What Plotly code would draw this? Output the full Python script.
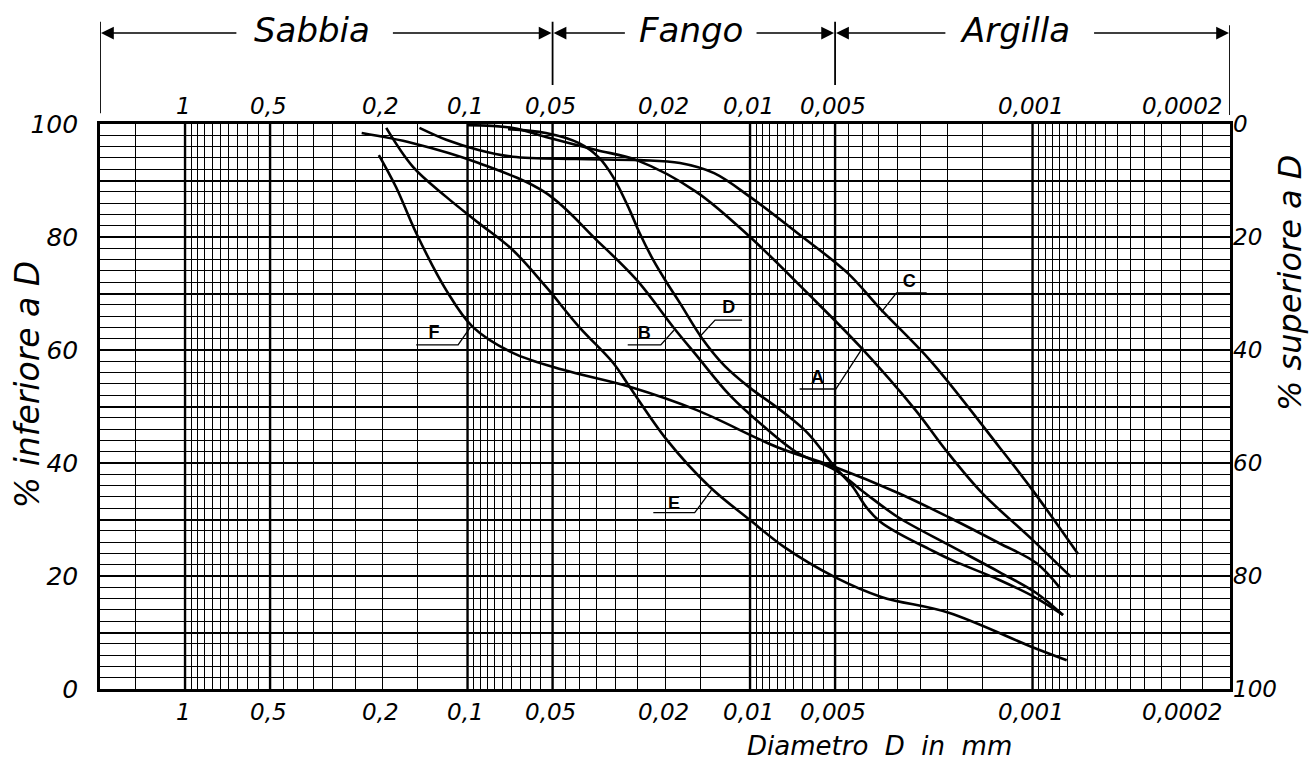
import math
import plotly.graph_objects as go

# ---------------- data ----------------
SIZE_VALUES = [1, 0.5, 0.2, 0.1, 0.05, 0.02, 0.01, 0.005, 0.001, 0.0002]
SIZE_LABELS = ["1", "0,5", "0,2", "0,1", "0,05", "0,02", "0,01", "0,005", "0,001", "0,0002"]

PCT_TICKS = [0, 10, 20, 30, 40, 50, 60, 70, 80, 90, 100]
PCT_TEXT = ["0", "", "20", "", "40", "", "60", "", "80", "", "100"]
PCT2_TICKS = [0, 20, 40, 60, 80, 100]

# log-paper grid
GRID_EXTRA = [2, 1.5]
GRID_DECADES = [1, 0.1, 0.01, 0.001]
GRID_MANTISSA = [1.0, 0.95, 0.9, 0.85, 0.8, 0.75, 0.7, 0.65, 0.6, 0.55, 0.5,
                 0.45, 0.4, 0.35, 0.3, 0.25, 0.2, 0.15]
GRID_BOLD = [1, 0.5, 0.1, 0.05, 0.01, 0.005, 0.001]

# grain size fractions (top classification)
CLASS_NAMES = ["Sabbia", "Fango", "Argilla"]
CLASS_BOUNDS = [2, 0.05, 0.005, 0.0002]
CLASS_TEXT_D = [0.356, 0.0162, 0.00115]
CLASS_GAP_LEFT = [0.65, 0.0274, 0.00201]     # arrow tails (left arrows)
CLASS_GAP_RIGHT = [0.186, 0.0096, 0.000613]  # arrow tails (right arrows)

# curves: diameter (mm) and % passing
A_D = [0.1, 0.069, 0.0528, 0.035, 0.0252, 0.0155, 0.01, 0.00627, 0.00406,
       0.0026, 0.00203, 0.00151, 0.001, 0.00073]
A_P = [99.8, 99.3, 97.7, 95.4, 93.6, 88.0, 80.0, 70.1, 60.5,
       49.4, 42.3, 34.7, 26.4, 19.8]

B_D = [0.237, 0.156, 0.0914, 0.0528, 0.035, 0.0252, 0.0186, 0.0155, 0.0118, 0.00891,
       0.0068, 0.00501, 0.00392, 0.00299, 0.00198, 0.00131, 0.00097, 0.00078]
B_P = [98.4, 96.6, 93.1, 87.8, 79.5, 72.4, 63.9, 59.1, 52.0, 46.4,
       41.8, 38.8, 34.7, 30.4, 25.5, 20.7, 17.0, 13.1]

C_D = [0.148, 0.119, 0.0914, 0.0692, 0.0413, 0.0246, 0.0177, 0.0134, 0.01, 0.0068,
       0.00451, 0.00343, 0.00228, 0.00131, 0.001, 0.00069]
C_P = [99.3, 97.2, 95.4, 94.2, 93.8, 93.6, 93.1, 91.3, 87.1, 80.7,
       73.6, 67.1, 57.9, 42.8, 35.2, 23.9]

D_D = [0.0719, 0.0528, 0.0403, 0.0342, 0.0305, 0.0267, 0.0246, 0.0220, 0.0197, 0.0177,
       0.0148, 0.0123, 0.0100, 0.00782, 0.00625, 0.00501, 0.00433, 0.00388, 0.00346,
       0.00299, 0.00233, 0.00193, 0.00131, 0.00097, 0.00078]
D_P = [99.1, 98.4, 96.6, 94.0, 90.6, 84.8, 80.7, 75.9, 71.9, 68.3,
       62.1, 57.2, 53.3, 49.4, 45.3, 39.3, 35.8, 32.2, 29.6,
       27.6, 24.8, 22.8, 19.3, 16.1, 13.1]

E_D = [0.194, 0.156, 0.119, 0.0914, 0.0692, 0.0528, 0.0403, 0.0305, 0.0267, 0.0197,
       0.0139, 0.01, 0.00756, 0.00501, 0.00343, 0.00198, 0.001, 0.000757]
E_P = [99.3, 92.4, 87.1, 82.5, 77.7, 71.2, 64.1, 57.7, 53.5, 44.1,
       35.8, 29.9, 25.1, 19.8, 16.3, 13.5, 7.4, 5.1]

F_D = [0.206, 0.179, 0.152, 0.119, 0.0959, 0.0692, 0.0459, 0.0267, 0.0155, 0.0080,
       0.00501, 0.00299, 0.00198, 0.00131, 0.00097, 0.00080]
F_P = [94.5, 88.8, 80.7, 70.6, 64.1, 59.5, 56.5, 53.5, 49.4, 42.8,
       39.3, 34.7, 30.4, 25.8, 22.3, 17.9]

# curve labels and leader lines
LABELS = ["A", "B", "C", "D", "E", "F"]
LABEL_D = [0.00577, 0.0237, 0.00273, 0.0119, 0.0186, 0.1315]
LABEL_P = [54.9, 62.7, 71.9, 67.3, 32.7, 63.0]
LEADER_D = [[0.00668, 0.00497, 0.00398],
            [0.0271, 0.0207, 0.0186],
            [0.00343, 0.00303, 0.00237],
            [0.0151, 0.0133, 0.01067],
            [0.022, 0.0157, 0.0137],
            [0.152, 0.108, 0.0975]]
LEADER_P = [[53.1, 53.1, 60.5],
            [60.9, 60.9, 63.5],
            [66.7, 70.1, 70.1],
            [62.3, 65.3, 65.3],
            [31.2, 31.2, 35.2],
            [60.9, 60.9, 64.1]]

# ---------------- figure ----------------
FONT = "DejaVu Sans"
ITAL = dict(family=FONT, color="black", style="italic")

grid_x = GRID_EXTRA + [d * m for d in GRID_DECADES for m in GRID_MANTISSA if d * m >= 0.0002 - 1e-12]

fig = go.Figure()

curves = [(A_D, A_P), (B_D, B_P), (C_D, C_P), (D_D, D_P), (E_D, E_P), (F_D, F_P)]
for (xs, ys), name in zip(curves, LABELS):
    fig.add_trace(go.Scatter(x=xs, y=ys, mode="lines", name=name,
                             line=dict(color="black", width=2.6, shape="spline", smoothing=1.0),
                             hoverinfo="skip"))

for lx, ly in zip(LEADER_D, LEADER_P):
    fig.add_trace(go.Scatter(x=lx, y=ly, mode="lines",
                             line=dict(color="black", width=1.3), hoverinfo="skip"))

fig.add_trace(go.Scatter(x=LABEL_D, y=LABEL_P, mode="text", text=LABELS,
                         textposition="middle center",
                         textfont=dict(family="Liberation Sans", size=18, color="black", weight="bold"),
                         hoverinfo="skip"))

# invisible trace on secondary y axis
fig.add_trace(go.Scatter(x=[1], y=[0], yaxis="y2", mode="markers",
                         marker=dict(opacity=0), hoverinfo="skip"))

# bold grid verticals
for v in GRID_BOLD:
    fig.add_shape(type="line", xref="x", yref="paper", x0=v, x1=v, y0=0, y1=1,
                  line=dict(color="black", width=2.4), layer="below")

# x tick labels top and bottom
for v, t in zip(SIZE_VALUES, SIZE_LABELS):
    last = v == SIZE_VALUES[-1]
    for yy in (1.032, -0.041):
        fig.add_annotation(x=math.log10(v), xref="x", y=yy, yref="paper", text=t,
                           showarrow=False, font=dict(size=23, **ITAL),
                           xanchor="right" if last else "center",
                           xshift=-6 if last else -2, yanchor="middle")

# classification brackets
Y_ARROW = 1.161
for v, top, bot in zip(CLASS_BOUNDS, [1.181, 1.181, 1.181, 1.175], [1.019, 1.069, 1.069, 1.016]):
    fig.add_shape(type="line", xref="x", yref="paper", x0=v, x1=v, y0=bot, y1=top,
                  line=dict(color="black", width=1.8))
for i, name in enumerate(CLASS_NAMES):
    fig.add_annotation(x=math.log10(CLASS_TEXT_D[i]), xref="x", y=Y_ARROW + 0.006, yref="paper",
                       text=name, showarrow=False, font=dict(size=34, **ITAL),
                       xanchor="center", yanchor="middle")
    fig.add_annotation(x=math.log10(CLASS_BOUNDS[i]), xref="x", y=Y_ARROW, yref="paper",
                       ax=math.log10(CLASS_GAP_LEFT[i]), axref="x", ay=0, ayref="pixel",
                       text="", showarrow=True, arrowhead=2, arrowsize=1.6, arrowwidth=1.6,
                       arrowcolor="black", standoff=1)
    fig.add_annotation(x=math.log10(CLASS_BOUNDS[i + 1]), xref="x", y=Y_ARROW, yref="paper",
                       ax=math.log10(CLASS_GAP_RIGHT[i]), axref="x", ay=0, ayref="pixel",
                       text="", showarrow=True, arrowhead=2, arrowsize=1.6, arrowwidth=1.6,
                       arrowcolor="black", standoff=1)

# axis titles
fig.add_annotation(x=-0.064, xref="paper", y=0.539, yref="paper", text="% inferiore a D",
                   textangle=-90, showarrow=False, font=dict(size=33, **ITAL),
                   xanchor="center", yanchor="middle")
fig.add_annotation(x=1.053, xref="paper", y=0.72, yref="paper", text="% superiore a D",
                   textangle=-90, showarrow=False, font=dict(size=32, **ITAL),
                   xanchor="center", yanchor="middle")
fig.add_annotation(x=0.69, xref="paper", y=-0.1, yref="paper", text="Diametro  D  in  mm",
                   showarrow=False, font=dict(size=26, **ITAL),
                   xanchor="center", yanchor="middle")

fig.update_layout(
    width=1311, height=775,
    margin=dict(l=100, r=81, t=124, b=86, autoexpand=False),
    plot_bgcolor="white", paper_bgcolor="white",
    showlegend=False,
    xaxis=dict(type="log", range=[math.log10(2), math.log10(0.0002)],
               tickvals=grid_x, showticklabels=False, ticks="",
               showgrid=True, gridcolor="black", gridwidth=1,
               showline=True, linecolor="black", linewidth=2.6, mirror=True,
               zeroline=False, automargin=False),
    yaxis=dict(range=[0, 100], tickvals=PCT_TICKS, ticktext=PCT_TEXT, ticks="",
               showgrid=True, gridcolor="black", gridwidth=2.2,
               minor=dict(tickmode="linear", tick0=0, dtick=2, showgrid=True,
                          gridcolor="black", gridwidth=1, ticks=""),
               showline=True, linecolor="black", linewidth=2.6, mirror=True,
               zeroline=False, ticklabelstandoff=14, automargin=False,
               tickfont=dict(size=25, **ITAL)),
    yaxis2=dict(overlaying="y", side="right", range=[100, 0], tickvals=PCT2_TICKS,
                ticks="", showgrid=False, zeroline=False, showline=False,
                ticklabelstandoff=2, automargin=False, tickfont=dict(size=23, **ITAL)),
)

fig.write_html("out.html", config={"displayModeBar": False},
               post_script="document.body.style.margin='0px';")
